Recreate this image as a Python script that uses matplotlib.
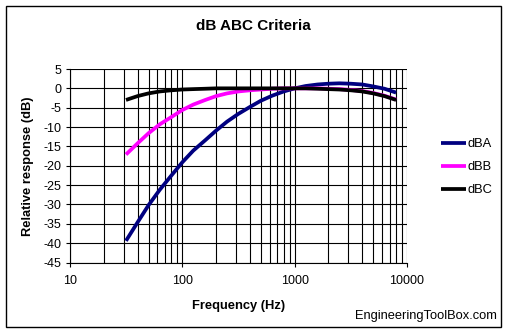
import matplotlib
matplotlib.use("Agg")
import matplotlib.pyplot as plt
from matplotlib.patches import Rectangle
from matplotlib.ticker import LogLocator, FixedLocator, NullFormatter

plt.rcParams['font.family'] = ['Liberation Sans', 'DejaVu Sans']

# One-third octave band centre frequencies (Hz)
freq = [31.5, 40, 50, 63, 80, 100, 125, 160, 200, 250, 315, 400, 500, 630,
        800, 1000, 1250, 1600, 2000, 2500, 3150, 4000, 5000, 6300, 8000]

# Weighting curves (dB)
dBA = [-39.4, -34.6, -30.2, -26.2, -22.5, -19.1, -16.1, -13.4, -10.9, -8.6,
       -6.6, -4.8, -3.2, -1.9, -0.8, 0.0, 0.6, 1.0, 1.2, 1.3, 1.2, 1.0, 0.5,
       -0.1, -1.1]
dBB = [-17.1, -14.2, -11.6, -9.3, -7.4, -5.6, -4.2, -3.0, -2.0, -1.3, -0.8,
       -0.5, -0.3, -0.1, 0.0, 0.0, 0.0, 0.0, -0.1, -0.2, -0.4, -0.7, -1.2,
       -1.9, -2.9]
dBC = [-3.0, -2.0, -1.3, -0.8, -0.5, -0.3, -0.2, -0.1, 0.0, 0.0, 0.0, 0.0,
       0.0, 0.0, 0.0, 0.0, 0.0, -0.1, -0.2, -0.3, -0.5, -0.8, -1.3, -2.0, -3.0]

series_names = ['dBA', 'dBB', 'dBC']
series_colors = ['#000080', '#FF00FF', '#000000']

fig = plt.figure(figsize=(5.07, 3.33), dpi=100)
fig.patch.set_facecolor('white')
# outer chart border
fig.add_artist(Rectangle((6 / 507, 6 / 333), 495 / 507, 321 / 333,
                         transform=fig.transFigure, fill=False,
                         edgecolor='black', linewidth=1.0))

ax = fig.add_axes([70 / 507, 1 - 262.5 / 333, 337 / 507, 193.5 / 333])
ax.set_xscale('log')
ax.set_xlim(10, 10000)
ax.set_ylim(-45, 5)

lines = []
for vals, name, col in zip([dBA, dBB, dBC], series_names, series_colors):
    ln, = ax.plot(freq, vals, color=col, linewidth=2.7, label=name,
                  solid_capstyle='butt', zorder=3)
    lines.append(ln)

ax.xaxis.set_minor_locator(LogLocator(base=10, subs=range(2, 10), numticks=20))
ax.xaxis.set_minor_formatter(NullFormatter())
ax.set_xticks([10, 100, 1000, 10000])
ax.set_xticklabels(['10', '100', '1000', '10000'])
ax.yaxis.set_major_locator(FixedLocator(list(range(-45, 6, 5))))
ax.set_yticklabels([str(v) for v in range(-45, 6, 5)])

ax.grid(True, which='both', axis='x', color='black', linewidth=0.8)
ax.grid(True, which='major', axis='y', color='black', linewidth=0.8)
ax.tick_params(axis='both', which='major', labelsize=9, length=3,
               width=0.8, color='black', pad=3)
ax.tick_params(axis='x', which='minor', length=0)
ax.tick_params(axis='x', which='major', pad=6)
for s in ['top', 'right']:
    ax.spines[s].set_visible(False)
for s in ['left', 'bottom']:
    ax.spines[s].set_linewidth(0.8)

ax.set_xlabel('Frequency (Hz)', fontsize=9.3, fontweight='bold', labelpad=9)
ax.set_ylabel('Relative response (dB)', fontsize=9.3, fontweight='bold',
              labelpad=7)

fig.text(253 / 507, 1 - 26 / 333, 'dB ABC Criteria', ha='center',
         va='center', fontsize=11, fontweight='bold')
fig.text(497 / 507, 1 - 316 / 333, 'EngineeringToolBox.com', ha='right',
         va='center', fontsize=9.3)

leg = fig.legend(handles=lines, labels=series_names,
                 loc='upper left', bbox_to_anchor=(441 / 507, 1 - 138 / 333),
                 frameon=False, fontsize=9.3, handlelength=1.9,
                 handletextpad=0.15, labelspacing=0.85, borderaxespad=0,
                 borderpad=0)

fig.savefig('out.png', dpi=100)
